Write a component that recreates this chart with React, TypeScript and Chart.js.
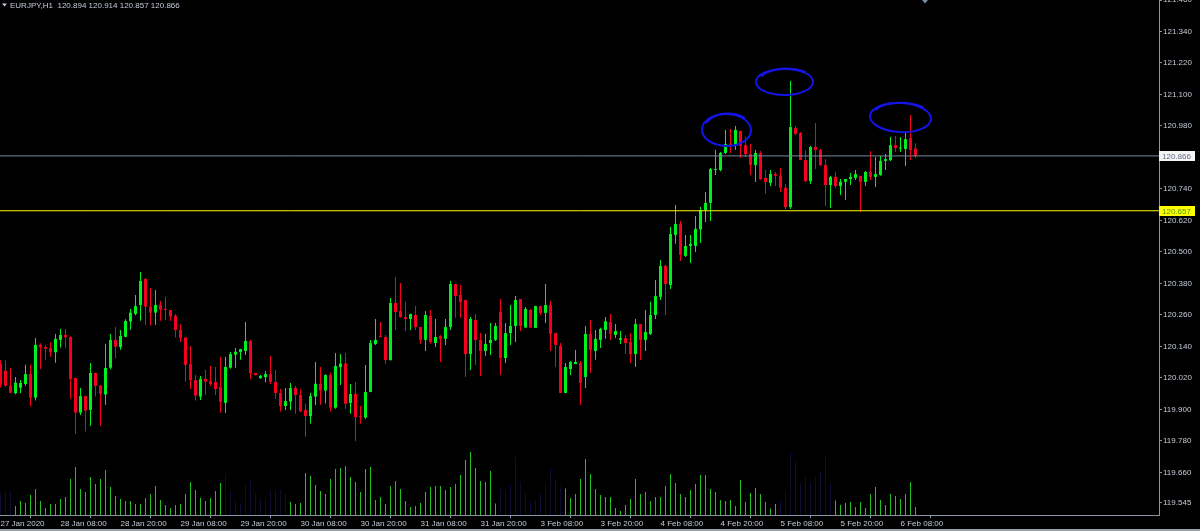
import React, { useEffect, useRef } from "react";
import { Chart, registerables } from "chart.js";

Chart.register(...registerables);

// ---------- data ----------
const symbol = "EURJPY,H1";

const openP = [
  120.073, 120.048, 119.991, 119.962, 119.983, 119.997, 120.035, 119.945, 120.146, 120.138,
  120.134, 120.118, 120.165, 120.184, 120.176, 120.020, 119.888, 119.951, 119.898, 120.039,
  119.991, 119.957, 120.059, 120.165, 120.138, 120.177, 120.235, 120.264, 120.298, 120.397,
  120.292, 120.269, 120.298, 120.282, 120.279, 120.257, 120.203, 120.174, 120.073, 120.012,
  119.949, 120.016, 120.009, 120.005, 119.986, 119.925, 120.059, 120.109, 120.119, 120.123,
  120.161, 120.039, 120.019, 120.023, 120.035, 120.005, 119.963, 119.913, 119.930, 119.982,
  119.955, 119.898, 119.875, 119.949, 119.998, 119.972, 120.031, 119.907, 120.061, 120.075,
  119.925, 119.959, 119.875, 119.869, 119.967, 120.149, 120.180, 120.176, 120.088, 120.306,
  120.275, 120.252, 120.245, 120.260, 120.214, 120.165, 120.256, 120.153, 120.180, 120.169,
  120.214, 120.378, 120.336, 120.317, 120.111, 120.241, 120.165, 120.123, 120.153, 120.165,
  120.271, 120.096, 120.191, 120.218, 120.321, 120.212, 120.279, 120.211, 120.294, 120.268,
  120.298, 120.191, 120.142, 119.963, 120.054, 120.073, 120.077, 120.024, 120.188, 120.123,
  120.165, 120.203, 120.233, 120.184, 120.165, 120.172, 120.157, 120.111, 120.226, 120.165,
  120.188, 120.260, 120.329, 120.447, 120.374, 120.565, 120.607, 120.485, 120.523, 120.523,
  120.586, 120.660, 120.687, 120.812, 120.812, 120.877, 120.913, 120.904, 120.961, 120.907,
  120.873, 120.831, 120.877, 120.782, 120.763, 120.797, 120.790, 120.745, 120.671, 120.972,
  120.953, 120.850, 120.770, 120.900, 120.889, 120.831, 120.755, 120.786, 120.751, 120.767,
  120.778, 120.782, 120.790, 120.767, 120.805, 120.786, 120.793, 120.847, 120.850, 120.907,
  120.894, 120.892, 120.934, 120.894,
];

const highP = [
  120.088, 120.088, 120.059, 120.024, 120.012, 120.070, 120.070, 120.172, 120.152, 120.146,
  120.156, 120.188, 120.207, 120.207, 120.178, 120.021, 119.982, 119.953, 120.077, 120.041,
  119.993, 120.150, 120.188, 120.214, 120.203, 120.244, 120.283, 120.336, 120.424, 120.401,
  120.363, 120.355, 120.313, 120.329, 120.280, 120.264, 120.226, 120.175, 120.142, 120.031,
  120.028, 120.050, 120.066, 120.062, 120.100, 120.100, 120.119, 120.134, 120.131, 120.233,
  120.165, 120.040, 120.031, 120.047, 120.104, 120.050, 119.978, 119.982, 120.001, 119.990,
  119.977, 119.923, 119.964, 120.081, 120.062, 120.034, 120.041, 120.115, 120.111, 120.115,
  119.997, 120.005, 119.913, 120.069, 120.165, 120.245, 120.233, 120.184, 120.325, 120.405,
  120.382, 120.310, 120.265, 120.294, 120.215, 120.275, 120.279, 120.245, 120.184, 120.245,
  120.390, 120.380, 120.374, 120.318, 120.252, 120.264, 120.191, 120.188, 120.229, 120.229,
  120.321, 120.229, 120.298, 120.332, 120.321, 120.290, 120.283, 120.295, 120.295, 120.378,
  120.313, 120.192, 120.153, 120.077, 120.085, 120.127, 120.085, 120.218, 120.241, 120.203,
  120.211, 120.252, 120.264, 120.226, 120.199, 120.184, 120.191, 120.245, 120.226, 120.279,
  120.310, 120.393, 120.469, 120.451, 120.595, 120.679, 120.618, 120.565, 120.565, 120.637,
  120.671, 120.729, 120.820, 120.889, 120.881, 120.965, 120.969, 120.980, 120.962, 120.938,
  120.911, 120.889, 120.885, 120.812, 120.812, 120.805, 120.820, 120.759, 121.151, 120.980,
  120.957, 120.888, 120.904, 120.991, 120.892, 120.854, 120.790, 120.805, 120.778, 120.778,
  120.801, 120.812, 120.790, 120.809, 120.885, 120.862, 120.866, 120.873, 120.938, 120.942,
  120.938, 120.953, 121.022, 120.914,
];

const lowP = [
  119.985, 119.987, 119.962, 119.958, 119.962, 119.990, 119.911, 119.934, 120.054, 120.089,
  120.101, 120.078, 120.136, 120.133, 119.941, 119.808, 119.879, 119.816, 119.838, 119.949,
  119.838, 119.918, 120.053, 120.094, 120.128, 120.175, 120.204, 120.259, 120.238, 120.223,
  120.219, 120.223, 120.238, 120.241, 120.238, 120.174, 120.158, 120.006, 119.978, 119.934,
  119.936, 119.955, 119.990, 119.955, 119.888, 119.887, 120.055, 120.059, 120.089, 120.108,
  120.016, 120.029, 120.017, 120.004, 119.997, 119.941, 119.892, 119.898, 119.898, 119.884,
  119.890, 119.796, 119.847, 119.917, 119.918, 119.923, 119.892, 119.903, 119.993, 119.903,
  119.884, 119.780, 119.846, 119.865, 119.966, 120.146, 120.175, 120.073, 120.087, 120.203,
  120.250, 120.199, 120.203, 120.203, 120.150, 120.123, 120.150, 120.138, 120.081, 120.146,
  120.203, 120.249, 120.249, 120.024, 120.050, 120.069, 120.028, 120.104, 120.108, 120.161,
  120.031, 120.077, 120.146, 120.157, 120.199, 120.211, 120.211, 120.210, 120.260, 120.229,
  120.123, 120.062, 119.962, 119.962, 120.031, 120.073, 119.917, 119.982, 120.039, 120.089,
  120.134, 120.169, 120.165, 120.172, 120.149, 120.111, 120.077, 120.062, 120.089, 120.123,
  120.184, 120.245, 120.317, 120.260, 120.359, 120.531, 120.466, 120.481, 120.458, 120.500,
  120.534, 120.614, 120.618, 120.793, 120.808, 120.873, 120.877, 120.889, 120.858, 120.862,
  120.793, 120.767, 120.774, 120.721, 120.751, 120.751, 120.729, 120.664, 120.664, 120.946,
  120.850, 120.766, 120.759, 120.816, 120.828, 120.675, 120.668, 120.744, 120.717, 120.698,
  120.755, 120.774, 120.652, 120.751, 120.774, 120.748, 120.790, 120.812, 120.847, 120.881,
  120.881, 120.828, 120.850, 120.857,
];

const closeP = [
  119.993, 119.990, 119.964, 120.002, 120.001, 120.035, 119.945, 120.146, 120.136, 120.132,
  120.118, 120.169, 120.184, 120.175, 120.016, 119.888, 119.951, 119.896, 120.039, 119.990,
  119.960, 120.058, 120.165, 120.139, 120.180, 120.237, 120.269, 120.294, 120.390, 120.292,
  120.269, 120.298, 120.280, 120.279, 120.254, 120.203, 120.172, 120.070, 120.012, 119.953,
  120.016, 120.006, 119.997, 119.978, 119.929, 120.062, 120.111, 120.120, 120.130, 120.161,
  120.038, 120.031, 120.028, 120.035, 120.005, 119.963, 119.913, 119.932, 119.982, 119.955,
  119.893, 119.875, 119.951, 119.998, 119.972, 120.031, 119.907, 120.066, 120.075, 119.922,
  119.959, 119.871, 119.871, 119.967, 120.153, 120.165, 120.176, 120.088, 120.306, 120.271,
  120.252, 120.245, 120.264, 120.214, 120.165, 120.260, 120.157, 120.176, 120.169, 120.214,
  120.378, 120.332, 120.309, 120.111, 120.245, 120.165, 120.123, 120.150, 120.165, 120.218,
  120.096, 120.191, 120.218, 120.317, 120.218, 120.283, 120.212, 120.294, 120.268, 120.298,
  120.188, 120.146, 119.963, 120.062, 120.081, 120.081, 120.001, 120.188, 120.127, 120.169,
  120.207, 120.236, 120.188, 120.199, 120.172, 120.153, 120.111, 120.226, 120.165, 120.195,
  120.260, 120.332, 120.447, 120.378, 120.569, 120.607, 120.489, 120.523, 120.531, 120.588,
  120.660, 120.687, 120.816, 120.816, 120.877, 120.911, 120.906, 120.965, 120.904, 120.873,
  120.831, 120.877, 120.778, 120.767, 120.797, 120.790, 120.745, 120.671, 120.976, 120.950,
  120.850, 120.770, 120.900, 120.889, 120.831, 120.755, 120.786, 120.751, 120.767, 120.778,
  120.786, 120.797, 120.767, 120.805, 120.786, 120.797, 120.847, 120.854, 120.907, 120.896,
  120.897, 120.930, 120.888, 120.866,
];

const tickVolume = [
  1100, 1170, 1170, 450, 700, 600, 1000, 1300, 700, 350,
  550, 550, 800, 900, 1800, 2400, 1300, 1150, 1900, 1550,
  1800, 2250, 1400, 950, 800, 700, 700, 550, 550, 850,
  1050, 1450, 750, 500, 350, 500, 550, 1050, 1650, 1250,
  850, 700, 850, 1200, 1600, 2080, 1170, 750, 580, 1500,
  1750, 1080, 830, 750, 1250, 1250, 1250, 1080, 650, 550,
  600, 2100, 1950, 1500, 1200, 1050, 1800, 2300, 2350, 2450,
  1900, 1650, 1150, 2300, 2400, 750, 900, 550, 1450, 1700,
  1300, 700, 400, 450, 600, 1150, 1400, 1450, 1450, 1250,
  1400, 1550, 2000, 2750, 3150, 2350, 1700, 1650, 2200, 580,
  1330, 1250, 1500, 2920, 1670, 1080, 670, 750, 1080, 1500,
  2330, 1750, 1420, 1330, 850, 1050, 1800, 2800, 2050, 1300,
  1000, 900, 900, 350, 200, 500, 800, 1800, 1050, 1150,
  700, 900, 900, 1450, 2050, 1600, 1050, 900, 1250, 1550,
  2000, 2000, 1300, 1150, 750, 700, 750, 450, 1750, 650,
  1100, 1350, 1050, 650, 330, 550, 750, 1170, 3120, 2670,
  1580, 1920, 1580, 1920, 2170, 2920, 1580, 730, 500, 600,
  650, 400, 650, 350, 1050, 1400, 750, 500, 1050, 950,
  800, 1050, 1650, 400,
];

// bars whose volume is drawn in the dim (navy) colour
const dimVolumeRanges = [
  [0, 2],
  [45, 57],
  [100, 112],
  [156, 166],
];

const timeTickBars = [0, 12, 24, 36, 48, 60, 72, 84, 96, 108, 120, 132, 144, 156, 168, 180];
const timeTickLabels = [
  "27 Jan 2020", "28 Jan 08:00", "28 Jan 20:00", "29 Jan 08:00", "29 Jan 20:00",
  "30 Jan 08:00", "30 Jan 20:00", "31 Jan 08:00", "31 Jan 20:00", "3 Feb 08:00",
  "3 Feb 20:00", "4 Feb 08:00", "4 Feb 20:00", "5 Feb 08:00", "5 Feb 20:00", "6 Feb 08:00",
];

const priceTicks = [
  121.46, 121.34, 121.22, 121.1, 120.98, 120.74, 120.62, 120.5, 120.38, 120.26,
  120.14, 120.02, 119.9, 119.78, 119.66, 119.545,
];

const supportLevel = 120.657;

// hand-drawn ellipse marks (centre bar, centre price, half width in bars, half height in price)
const markBar = [145.2, 156.8, 180.0];
const markPrice = [120.965, 121.148, 121.012];
const markHalfBars = [4.9, 5.7, 6.1];
const markHalfPrice = [0.061, 0.0495, 0.0552];
const markTilt = [0.02, 0.0, 0.05];

const chartShiftBar = 184.9;

// ---------- styles ----------
const X_MIN = -0.1;
const X_MAX = 231.7;
const Y_MIN = 119.498;
const Y_MAX = 121.46;
const VOL_MAX = 25750;

const BULL = "#00f01e";
const BEAR = "#f5001e";
const VOL_GREEN = "#22c21e";
const VOL_DIM = "#0d0d33";
const AXIS = "#8a94a6";
const TEXT = "#c4ccd8";
const FONT = "'Liberation Sans', Arial, sans-serif";

const fmt = (v: number) => v.toFixed(3);

const overlayPlugin = {
  id: "mtOverlay",
  beforeDraw(chart: any) {
    const ctx = chart.ctx;
    ctx.save();
    ctx.fillStyle = "#000000";
    ctx.fillRect(0, 0, chart.width, chart.height);
    ctx.restore();
  },
  afterDatasetsDraw(chart: any) {
    const ctx = chart.ctx;
    const xs = chart.scales.x;
    const ys = chart.scales.y;
    const area = chart.chartArea;
    ctx.save();
    ctx.beginPath();
    ctx.rect(area.left, area.top, area.right - area.left, area.bottom - area.top);
    ctx.clip();
    ctx.strokeStyle = "#1414e6";
    ctx.lineWidth = 2;
    for (let k = 0; k < markBar.length; k++) {
      const cx = xs.getPixelForValue(markBar[k]);
      const cy = ys.getPixelForValue(markPrice[k]);
      const rx = xs.getPixelForValue(markBar[k] + markHalfBars[k]) - cx;
      const ry = ys.getPixelForValue(markPrice[k] - markHalfPrice[k]) - cy;
      ctx.beginPath();
      ctx.ellipse(cx, cy, rx, ry, markTilt[k], 0, Math.PI * 2);
      ctx.stroke();
      // second pen stroke over the top edge
      ctx.beginPath();
      ctx.ellipse(cx + rx * 0.08, cy - ry * 0.12, rx * 0.95, ry * 0.9, markTilt[k], Math.PI * 1.1, Math.PI * 1.75);
      ctx.stroke();
    }
    ctx.restore();
  },
  afterDraw(chart: any) {
    const ctx = chart.ctx;
    const xs = chart.scales.x;
    const ys = chart.scales.y;
    const area = chart.chartArea;
    const last = closeP.length - 1;
    ctx.save();
    ctx.font = `8px ${FONT}`;
    ctx.textBaseline = "middle";
    ctx.textAlign = "left";

    // title
    ctx.fillStyle = TEXT;
    ctx.beginPath();
    ctx.moveTo(2, 3.5);
    ctx.lineTo(7, 3.5);
    ctx.lineTo(4.5, 6.5);
    ctx.closePath();
    ctx.fill();
    const title = `${symbol}  ${fmt(openP[last])} ${fmt(highP[last])} ${fmt(lowP[last])} ${fmt(closeP[last])}`;
    ctx.fillText(title, 10, 5.5);

    // chart shift marker
    const sx = Math.round(xs.getPixelForValue(chartShiftBar));
    ctx.fillStyle = "#7b88a8";
    ctx.beginPath();
    ctx.moveTo(sx - 3, 0);
    ctx.lineTo(sx + 3, 0);
    ctx.lineTo(sx, 3.5);
    ctx.closePath();
    ctx.fill();

    // bid price box
    const boxX = area.right;
    const bidY = Math.round(ys.getPixelForValue(closeP[last]));
    ctx.fillStyle = "#f4f4f4";
    ctx.fillRect(boxX, bidY - 5, 36, 10);
    ctx.fillStyle = "#5f6d82";
    ctx.fillText(fmt(closeP[last]), boxX + 3, bidY + 0.5);

    // support level box
    const supY = Math.round(ys.getPixelForValue(supportLevel));
    ctx.fillStyle = "#ffff00";
    ctx.fillRect(boxX, supY - 5, 36, 10);
    ctx.fillStyle = "#4a9a10";
    ctx.fillText(fmt(supportLevel), boxX + 3, supY + 0.5);

    // window frame line at the bottom
    ctx.fillStyle = "#9aa0aa";
    ctx.fillRect(0, chart.height - 2, chart.width, 2);
    ctx.restore();
  },
};

export default function App() {
  const canvasRef = useRef<HTMLCanvasElement | null>(null);

  useEffect(() => {
    document.body.style.margin = "0";
    document.body.style.background = "#000";
    const canvas = canvasRef.current;
    if (!canvas) return;

    const candleColors = closeP.map((c, i) => (c >= openP[i] ? BULL : BEAR));
    const volColors = tickVolume.map((_, i) =>
      dimVolumeRanges.some(([a, b]) => i >= a && i <= b) ? VOL_DIM : VOL_GREEN
    );

    const chart = new Chart(canvas, {
      type: "bar",
      data: {
        datasets: [
          {
            type: "line",
            label: "bid",
            data: [
              { x: X_MIN, y: closeP[closeP.length - 1] },
              { x: X_MAX, y: closeP[closeP.length - 1] },
            ],
            borderColor: "#778899",
            borderWidth: 1,
            pointRadius: 0,
            yAxisID: "y",
            order: 0,
          } as any,
          {
            type: "line",
            label: "support",
            data: [
              { x: X_MIN, y: supportLevel },
              { x: X_MAX, y: supportLevel },
            ],
            borderColor: "#ffff00",
            borderWidth: 1,
            pointRadius: 0,
            yAxisID: "y",
            order: 1,
          } as any,
          {
            type: "bar",
            label: "body",
            data: openP.map((o, i) => ({ x: i, y: [o, closeP[i]] })),
            backgroundColor: candleColors,
            barThickness: 3,
            minBarLength: 1,
            grouped: false,
            inflateAmount: 0,
            borderWidth: 0,
            yAxisID: "y",
            order: 2,
          } as any,
          {
            type: "bar",
            label: "wick",
            data: lowP.map((l, i) => ({ x: i, y: [l, highP[i]] })),
            backgroundColor: candleColors,
            barThickness: 1,
            grouped: false,
            inflateAmount: 0,
            borderWidth: 0,
            yAxisID: "y",
            order: 3,
          } as any,
          {
            type: "bar",
            label: "volume",
            data: tickVolume.map((v, i) => ({ x: i, y: v })),
            backgroundColor: volColors,
            barThickness: 1,
            grouped: false,
            inflateAmount: 0,
            borderWidth: 0,
            yAxisID: "yv",
            order: 4,
          } as any,
        ],
      },
      options: {
        animation: false,
        responsive: false,
        events: [],
        layout: { padding: 0 },
        plugins: {
          legend: { display: false },
          tooltip: { enabled: false },
        },
        scales: {
          x: {
            type: "linear",
            position: "bottom",
            min: X_MIN,
            max: X_MAX,
            offset: false,
            afterBuildTicks: (s: any) => {
              s.ticks = timeTickBars.map((v) => ({ value: v }));
            },
            afterFit: (s: any) => {
              s.height = 16;
              s.paddingLeft = 0;
              s.paddingRight = 0;
            },
            ticks: {
              autoSkip: false,
              maxRotation: 0,
              minRotation: 0,
              align: "start",
              padding: 1,
              color: TEXT,
              font: { family: FONT, size: 8 },
              callback: (_v: any, i: number) => timeTickLabels[i],
            },
            grid: { drawOnChartArea: false, drawTicks: true, tickLength: 3, color: AXIS },
            border: { display: true, color: AXIS, width: 1 },
          },
          y: {
            type: "linear",
            position: "right",
            min: Y_MIN,
            max: Y_MAX,
            afterBuildTicks: (s: any) => {
              s.ticks = priceTicks.map((v) => ({ value: v }));
            },
            afterFit: (s: any) => {
              s.width = 41;
              s.paddingTop = 0;
              s.paddingBottom = 0;
            },
            ticks: {
              autoSkip: false,
              padding: 1,
              color: TEXT,
              font: { family: FONT, size: 8 },
              callback: (v: any) => Number(v).toFixed(3),
            },
            grid: { drawOnChartArea: false, drawTicks: true, tickLength: 3, color: AXIS },
            border: { display: true, color: AXIS, width: 1 },
          },
          yv: {
            type: "linear",
            display: false,
            min: 0,
            max: VOL_MAX,
          },
        },
      } as any,
      plugins: [overlayPlugin],
    });

    return () => chart.destroy();
  }, []);

  return (
    <div style={{ width: 1200, height: 531, background: "#000" }}>
      <canvas ref={canvasRef} width={1200} height={531} style={{ display: "block" }} />
    </div>
  );
}
